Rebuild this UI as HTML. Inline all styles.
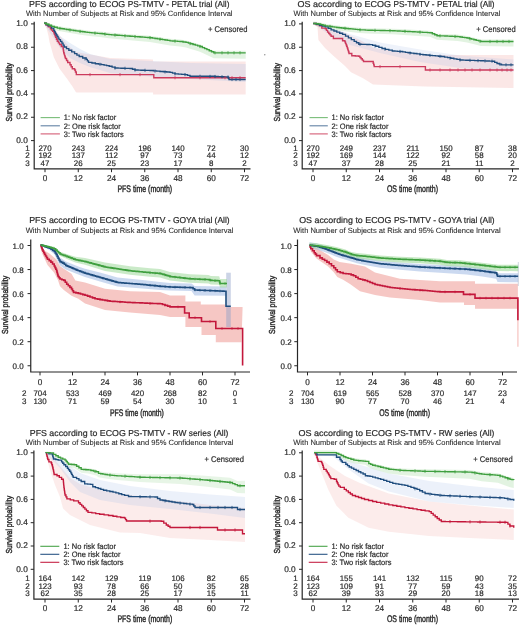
<!DOCTYPE html><html><head><meta charset="utf-8"><style>html,body{margin:0;padding:0;background:#fff;}svg{display:block;will-change:transform;}text{font-family:"Liberation Sans", sans-serif;stroke:#2b2b2b;stroke-width:0.2;text-rendering:geometricPrecision;}</style></head><body>
<svg width="520" height="625" viewBox="0 0 520 625">
<rect width="520" height="625" fill="#fff"/>
<path d="M44 23.2L50 26L55 30L60 36L65 42L70 47L76 52L110 58L153 59.5L153.1 61.5L245.7 61.5L245.7 94.6L153.1 94.6L153 92.5L76.5 92.5L75.8 91.9L72.3 86.2L66.5 78.1L59.6 68.8L53.8 57.3L49.5 42L48.5 36L46.5 28L44 23.5Z" fill="#f1a9a4" fill-opacity="0.28" stroke="none"/>
<path d="M44 23.5L55 30L60 36L70 43L80 49L90 54L110 59L150 61L190 63L245.7 64L245.7 82L190 79L150 76.5L110 73L90 67L80 63L70 58L60 48L55 40L44 24Z" fill="#a9bfe6" fill-opacity="0.25" stroke="none"/>
<path d="M44 21.2L51.5 24.3L57.3 26.1L68.8 27.8L80.4 29.5L91.9 30.9L100 31.5L109 32.6L130 34.2L150 35.7L160 37.2L170 38.8L180 39.5L186 40.4L200 44.5L213.8 50.8L245.7 50.8L245.7 58.83L213.8 58.27L200 51.73L186 47.38L180 46.38L170 45.5L160 43.73L150 42.05L130 40.21L109 38.24L100 36.98L91.9 36.24L80.4 34.64L68.8 32.73L57.3 30.83L51.5 28.93L44 24Z" fill="#9fd89a" fill-opacity="0.3" stroke="none"/>
<path d="M44 23.2H46.13V25.03H48.27V26.87H50.4V28.7H51.53V30.03H52.67V31.37H53.8V32.7H54.4V34.23H55V35.77H55.6V37.3H56.45V39.3H57.3V41.3H58.45V42.9H59.6V44.5H61.3V46.5H63.1V48.5H63.3V49.9H63.5V51.3H63.7V52.7H64.12V54.15H64.55V55.6H64.98V57.05H65.4V58.5H66.55V60.5H67.7V62.5H70V64.8H71.15V66.8H72.3V68.8H74.6V70H75.45V72H76.3V74V74.6H153.8V77.7H245.7" fill="none" stroke="#cc3a5c" stroke-width="1.4" stroke-linejoin="miter"/>
<path d="M44 23.2H46.05V24.5H48.1V25.8H51.5V28.1H53.8V30.4H54.6V31.93H55.4V33.47H56.2V35H57.13V36.53H58.07V38.07H59V39.6H60.45V41.35H61.9V43.1H63.05V45.05H64.2V47H66.5V48.6H68.8V50.2H71.7V51.9H74.6V53.6H76.9V55.05H79.2V56.5H82.7V57.95H86.2V59.4H87.35V60.85H88.5V62.3H91.95V63H95.4V63.7H98.45V64.15H101.5V64.6H104.07V65.13H106.63V65.67H109.2V66.2H112.1V67.1H115V68H118V68.1H121V68.2H124V68.3H127V68.4H130V68.5H132.5V69.25H135V70H138V70.1H141V70.2H144V70.3H147V70.4H150V70.5H153.33V70.83H156.67V71.17H160V71.5H163.33V71.77H166.67V72.03H170V72.3H172.5V73.05H175V73.8H178.33V74.07H181.67V74.33H185V74.6H187.5V75.4H190V76.2H215V76.5H218.25V76.62H221.5V76.75H224.75V76.88H228V77H228.5V78.25H229V79.5H245.7" fill="none" stroke="#1f4d7e" stroke-width="1.35" stroke-linejoin="miter"/>
<path d="M44 23.2H46.5V24.23H49V25.27H51.5V26.3H54.4V27.2H57.3V28.1H59.6V28.44H61.9V28.78H64.2V29.12H66.5V29.46H68.8V29.8H71.12V30.14H73.44V30.48H75.76V30.82H78.08V31.16H80.4V31.5H82.7V31.78H85V32.06H87.3V32.34H89.6V32.62H91.9V32.9H94.6V33.1H97.3V33.3H100V33.5H102.25V33.77H104.5V34.05H106.75V34.33H109V34.6H111.62V34.8H114.25V35H116.88V35.2H119.5V35.4H122.12V35.6H124.75V35.8H127.38V36H130V36.2H132.5V36.39H135V36.58H137.5V36.76H140V36.95H142.5V37.14H145V37.33H147.5V37.51H150V37.7H152.5V38.08H155V38.45H157.5V38.83H160V39.2H162.5V39.6H165V40H167.5V40.4H170V40.8H172.5V40.97H175V41.15H177.5V41.33H180V41.5H183V41.95H186V42.4H188.33V43.08H190.67V43.77H193V44.45H195.33V45.13H197.67V45.82H200V46.5H202.3V47.55H204.6V48.6H206.9V49.65H209.2V50.7H211.5V51.75H213.8V52.8H245.7" fill="none" stroke="#3f9f3f" stroke-width="1.35" stroke-linejoin="miter"/>
<path d="M60 26.9V30.1M70 28.38V31.58M80 29.84V33.04M95 31.53V34.73M105 32.51V35.71M115 33.46V36.66M125 34.22V37.42M135 34.98V38.18M150 36.1V39.3M160 37.6V40.8M175 39.55V42.75M190 41.97V45.17M200 44.9V48.1M215 51.2V54.4M222 51.2V54.4M228 51.2V54.4M234 51.2V54.4M240 51.2V54.4" stroke="#3f9f3f" stroke-width="0.8" fill="none"/>
<path d="M85 57.3V60.5M100 62.78V65.98M115 66.4V69.6M125 66.73V69.93M135 68.4V71.6M145 68.73V71.93M155 69.4V72.6M165 70.3V73.5M175 72.2V75.4M185 73V76.2M200 74.72V77.92M210 74.84V78.04M215 74.9V78.1M222 75.17V78.37M228 75.4V78.6M232 77.9V81.1M236 77.9V81.1M240 77.9V81.1" stroke="#1f4d7e" stroke-width="0.8" fill="none"/>
<path d="M90 73V76.2M120 73V76.2M140 73V76.2M175 76.1V79.3M200 76.1V79.3M225 76.1V79.3M232 76.1V79.3M240 76.1V79.3" stroke="#cc3a5c" stroke-width="0.8" fill="none"/>
<path d="M34.2 21.7V168.8H250.5" fill="none" stroke="#262626" stroke-width="1.2"/>
<text x="27.8" y="142.8" font-size="8.3" text-anchor="end" fill="#2b2b2b">0.0</text>
<text x="27.8" y="119.46" font-size="8.3" text-anchor="end" fill="#2b2b2b">0.2</text>
<text x="27.8" y="96.12" font-size="8.3" text-anchor="end" fill="#2b2b2b">0.4</text>
<text x="27.8" y="72.78" font-size="8.3" text-anchor="end" fill="#2b2b2b">0.6</text>
<text x="27.8" y="49.44" font-size="8.3" text-anchor="end" fill="#2b2b2b">0.8</text>
<text x="27.8" y="26.1" font-size="8.3" text-anchor="end" fill="#2b2b2b">1.0</text>
<text x="45" y="180.9" font-size="8.4" text-anchor="middle" textLength="4.58" lengthAdjust="spacingAndGlyphs" fill="#2b2b2b">0</text>
<text x="78.25" y="180.9" font-size="8.4" text-anchor="middle" textLength="9.16" lengthAdjust="spacingAndGlyphs" fill="#2b2b2b">12</text>
<text x="111.5" y="180.9" font-size="8.4" text-anchor="middle" textLength="9.16" lengthAdjust="spacingAndGlyphs" fill="#2b2b2b">24</text>
<text x="144.75" y="180.9" font-size="8.4" text-anchor="middle" textLength="9.16" lengthAdjust="spacingAndGlyphs" fill="#2b2b2b">36</text>
<text x="178" y="180.9" font-size="8.4" text-anchor="middle" textLength="9.16" lengthAdjust="spacingAndGlyphs" fill="#2b2b2b">48</text>
<text x="211.25" y="180.9" font-size="8.4" text-anchor="middle" textLength="9.16" lengthAdjust="spacingAndGlyphs" fill="#2b2b2b">60</text>
<text x="244.5" y="180.9" font-size="8.4" text-anchor="middle" textLength="9.16" lengthAdjust="spacingAndGlyphs" fill="#2b2b2b">72</text>
<path d="M31 140.6H34.2M31 117.26H34.2M31 93.92H34.2M31 70.58H34.2M31 47.24H34.2M31 23.9H34.2M45 168.8V172.2M78.25 168.8V172.2M111.5 168.8V172.2M144.75 168.8V172.2M178 168.8V172.2M211.25 168.8V172.2M244.5 168.8V172.2" stroke="#262626" stroke-width="1"/>
<text x="29.8" y="150.5" font-size="8" text-anchor="end" fill="#2b2b2b">1</text>
<text x="45" y="150.5" font-size="8" text-anchor="middle" textLength="13.21" lengthAdjust="spacingAndGlyphs" fill="#2b2b2b">270</text>
<text x="78.25" y="150.5" font-size="8" text-anchor="middle" textLength="13.21" lengthAdjust="spacingAndGlyphs" fill="#2b2b2b">243</text>
<text x="111.5" y="150.5" font-size="8" text-anchor="middle" textLength="13.21" lengthAdjust="spacingAndGlyphs" fill="#2b2b2b">224</text>
<text x="144.75" y="150.5" font-size="8" text-anchor="middle" textLength="13.21" lengthAdjust="spacingAndGlyphs" fill="#2b2b2b">196</text>
<text x="178" y="150.5" font-size="8" text-anchor="middle" textLength="13.21" lengthAdjust="spacingAndGlyphs" fill="#2b2b2b">140</text>
<text x="211.25" y="150.5" font-size="8" text-anchor="middle" textLength="8.81" lengthAdjust="spacingAndGlyphs" fill="#2b2b2b">72</text>
<text x="244.5" y="150.5" font-size="8" text-anchor="middle" textLength="8.81" lengthAdjust="spacingAndGlyphs" fill="#2b2b2b">30</text>
<text x="29.8" y="158.3" font-size="8" text-anchor="end" fill="#2b2b2b">2</text>
<text x="45" y="158.3" font-size="8" text-anchor="middle" textLength="13.21" lengthAdjust="spacingAndGlyphs" fill="#2b2b2b">192</text>
<text x="78.25" y="158.3" font-size="8" text-anchor="middle" textLength="13.21" lengthAdjust="spacingAndGlyphs" fill="#2b2b2b">137</text>
<text x="111.5" y="158.3" font-size="8" text-anchor="middle" textLength="12.62" lengthAdjust="spacingAndGlyphs" fill="#2b2b2b">112</text>
<text x="144.75" y="158.3" font-size="8" text-anchor="middle" textLength="8.81" lengthAdjust="spacingAndGlyphs" fill="#2b2b2b">97</text>
<text x="178" y="158.3" font-size="8" text-anchor="middle" textLength="8.81" lengthAdjust="spacingAndGlyphs" fill="#2b2b2b">73</text>
<text x="211.25" y="158.3" font-size="8" text-anchor="middle" textLength="8.81" lengthAdjust="spacingAndGlyphs" fill="#2b2b2b">44</text>
<text x="244.5" y="158.3" font-size="8" text-anchor="middle" textLength="8.81" lengthAdjust="spacingAndGlyphs" fill="#2b2b2b">12</text>
<text x="29.8" y="165.9" font-size="8" text-anchor="end" fill="#2b2b2b">3</text>
<text x="45" y="165.9" font-size="8" text-anchor="middle" textLength="8.81" lengthAdjust="spacingAndGlyphs" fill="#2b2b2b">47</text>
<text x="78.25" y="165.9" font-size="8" text-anchor="middle" textLength="8.81" lengthAdjust="spacingAndGlyphs" fill="#2b2b2b">26</text>
<text x="111.5" y="165.9" font-size="8" text-anchor="middle" textLength="8.81" lengthAdjust="spacingAndGlyphs" fill="#2b2b2b">25</text>
<text x="144.75" y="165.9" font-size="8" text-anchor="middle" textLength="8.81" lengthAdjust="spacingAndGlyphs" fill="#2b2b2b">23</text>
<text x="178" y="165.9" font-size="8" text-anchor="middle" textLength="8.81" lengthAdjust="spacingAndGlyphs" fill="#2b2b2b">17</text>
<text x="211.25" y="165.9" font-size="8" text-anchor="middle" textLength="4.4" lengthAdjust="spacingAndGlyphs" fill="#2b2b2b">8</text>
<text x="244.5" y="165.9" font-size="8" text-anchor="middle" textLength="4.4" lengthAdjust="spacingAndGlyphs" fill="#2b2b2b">2</text>
<text x="29" y="7" font-size="8.6" textLength="96.25" lengthAdjust="spacingAndGlyphs" fill="#2b2b2b">PFS according to ECOG</text>
<text x="127.7" y="7" font-size="8.6" textLength="101.8" lengthAdjust="spacingAndGlyphs" fill="#2b2b2b">PS-TMTV - PETAL trial (All)</text>
<text x="26" y="16.4" font-size="7.5" textLength="206.5" lengthAdjust="spacingAndGlyphs" fill="#2b2b2b" style="stroke-width:0.08">With Number of Subjects at Risk and 95% Confidence Interval</text>
<text x="117.4" y="191.5" font-size="9.6" textLength="54.8" lengthAdjust="spacingAndGlyphs" fill="#2b2b2b" style="stroke-width:0.42">PFS time (month)</text>
<text style="stroke-width:0.42" transform="translate(11.5 121.4) rotate(-90)" font-size="8.7" fill="#2b2b2b" textLength="58.4" lengthAdjust="spacingAndGlyphs">Survival probability</text>
<path d="M40.6 117.6H59.9" stroke="#3f9f3f" stroke-width="1.1" stroke-opacity="0.7"/>
<text x="63.75" y="120.3" font-size="7.9" textLength="52.5" lengthAdjust="spacingAndGlyphs" fill="#2b2b2b">1: No risk factor</text>
<path d="M40.6 125.8H59.9" stroke="#1f4d7e" stroke-width="1.1" stroke-opacity="0.7"/>
<text x="63.75" y="128.5" font-size="7.9" textLength="57" lengthAdjust="spacingAndGlyphs" fill="#2b2b2b">2: One risk factor</text>
<path d="M40.6 133.9H59.9" stroke="#c3173b" stroke-width="1.1" stroke-opacity="0.7"/>
<text x="63.75" y="136.6" font-size="7.9" textLength="60" lengthAdjust="spacingAndGlyphs" fill="#2b2b2b">3: Two risk factors</text>
<text x="208" y="32" font-size="8.4" textLength="39.5" lengthAdjust="spacingAndGlyphs" fill="#2b2b2b">+ Censored</text>
<path d="M313.2 23.5L322 26L331 29L345 33L360 40L374 48L425 55L513.5 55L513.5 88L425 86.5L373 84.6L363.5 78.5L351 72.3L345 66L333 55.4L325 48L318.4 40L317.5 27L313.5 24.5Z" fill="#f1a9a4" fill-opacity="0.28" stroke="none"/>
<path d="M313.2 23.5L330 27L350 34L380 42.5L420 49.5L460 55.5L513.5 59.5L513.5 72L460 68L420 62L380 53L350 45L330 35L313.2 24Z" fill="#a9bfe6" fill-opacity="0.2" stroke="none"/>
<path d="M313.2 21.5L318.4 22L325.3 23.8L336.8 25.5L348.4 26.7L359.9 27.8L368 28.2L392.3 28.7L400 29.1L430 30.7L437 33.7L457.7 34.6L467 36L476.2 38.3L480.8 39.5L513.5 39.5L513.5 46.51L480.8 46.1L476.2 44.84L467 42.42L457.7 40.91L437 39.75L430 36.66L400 34.69L392.3 34.19L368 33.39L359.9 32.89L348.4 31.64L336.8 30.3L325.3 28.45L318.4 26.57L313.8 24Z" fill="#9fd89a" fill-opacity="0.3" stroke="none"/>
<path d="M313.2 23.5H316.35V24.65H319.5V25.8H321.8V28.1H325.3V28.7H326.45V30.4H327.6V32.1H328.77V33.47H329.93V34.83H331.1V36.2H333.4V38.5H340.3H342.6V40.8H344.9V41.9H345.47V43.35H346.05V44.8H346.62V46.25H347.2V47.7H347.65V49.15H348.1V50.6H348.55V52.05H349V53.5H351.8V55.8H355.3V56.05H358.8V56.3H359.95V57.5H361.1V58.7H362.3V60.1H363.5V61.5H372.7H373.2V63.2H373.7V64.9H374.2V66.6H425.4V70H513.5" fill="none" stroke="#cc3a5c" stroke-width="1.4" stroke-linejoin="miter"/>
<path d="M313.2 23.5H316.35V24.35H319.5V25.2H322.4V26.05H325.3V26.9H328.2V28.35H331.1V29.8H333.95V30.95H336.8V32.1H339.7V33.25H342.6V34.4H345.5V36.15H348.4V37.9H351.3V39.6H354.2V41.3H356.5V42.75H358.8V44.2H361.5V44.3H364.2V44.4H366.9V44.5H369.6V44.6H372.7V45.4H375.8V46.2H378.9V47.35H382V48.5H385.43V49.33H388.87V50.17H392.3V51H394.87V51.17H397.43V51.33H400V51.5H402.7V51.9H405.4V52.3H408.1V52.7H410.8V53.1H413.85V53.5H416.9V53.9H419.95V54.3H423V54.7H426.08V55H429.17V55.3H432.25V55.6H435.33V55.9H438.42V56.2H441.5V56.5H444.58V57.08H447.67V57.67H450.75V58.25H453.83V58.83H456.92V59.42H460V60H462.94V60.11H465.87V60.22H468.81V60.33H471.75V60.44H474.68V60.55H477.62V60.65H480.55V60.76H483.49V60.87H486.43V60.98H489.36V61.09H492.3V61.2H494.65V62.35H497V63.5H499.25V64.15H501.5V64.8H513.5" fill="none" stroke="#1f4d7e" stroke-width="1.35" stroke-linejoin="miter"/>
<path d="M313.2 23.5H315.8V23.75H318.4V24H320.7V24.6H323V25.2H325.3V25.8H327.6V26.14H329.9V26.48H332.2V26.82H334.5V27.16H336.8V27.5H339.12V27.74H341.44V27.98H343.76V28.22H346.08V28.46H348.4V28.7H350.7V28.92H353V29.14H355.3V29.36H357.6V29.58H359.9V29.8H362.6V29.93H365.3V30.07H368V30.2H370.43V30.25H372.86V30.3H375.29V30.35H377.72V30.4H380.15V30.45H382.58V30.5H385.01V30.55H387.44V30.6H389.87V30.65H392.3V30.7H394.87V30.83H397.43V30.97H400V31.1H402.5V31.23H405V31.37H407.5V31.5H410V31.63H412.5V31.77H415V31.9H417.5V32.03H420V32.17H422.5V32.3H425V32.43H427.5V32.57H430V32.7H432.33V33.7H434.67V34.7H437V35.7H439.59V35.81H442.18V35.93H444.76V36.04H447.35V36.15H449.94V36.26H452.52V36.38H455.11V36.49H457.7V36.6H460.02V36.95H462.35V37.3H464.68V37.65H467V38H469.3V38.58H471.6V39.15H473.9V39.72H476.2V40.3H478.5V40.9H480.8V41.5H513.5" fill="none" stroke="#3f9f3f" stroke-width="1.35" stroke-linejoin="miter"/>
<path d="M330 24.89V28.09M345 26.75V29.95M360 28.2V31.4M375 28.74V31.94M390 29.05V32.25M405 29.77V32.97M420 30.57V33.77M440 34.23V37.43M455 34.88V38.08M470 37.15V40.35M480 39.69V42.89M490 39.9V43.1M497 39.9V43.1M503 39.9V43.1M509 39.9V43.1" stroke="#3f9f3f" stroke-width="0.8" fill="none"/>
<path d="M360 42.64V45.84M375 44.39V47.59M385 47.63V50.83M400 49.9V53.1M410 51.38V54.58M420 52.71V55.91M430 53.78V56.98M440 54.75V57.95M450 56.51V59.71M460 58.4V61.6M470 58.77V61.97M478 59.07V62.27M485 59.33V62.53M492 59.59V62.79M500 62.77V65.97M506 63.2V66.4M511 63.2V66.4" stroke="#1f4d7e" stroke-width="0.8" fill="none"/>
<path d="M380 65V68.2M400 65V68.2M430 68.4V71.6M440 68.4V71.6M450 68.4V71.6M458 68.4V71.6M465 68.4V71.6M472 68.4V71.6M480 68.4V71.6M490 68.4V71.6M497 68.4V71.6M502 68.4V71.6M507 68.4V71.6M511 68.4V71.6" stroke="#cc3a5c" stroke-width="0.8" fill="none"/>
<path d="M302.2 21.7V168.8H519" fill="none" stroke="#262626" stroke-width="1.2"/>
<text x="295.7" y="142.8" font-size="8.3" text-anchor="end" fill="#2b2b2b">0.0</text>
<text x="295.7" y="119.46" font-size="8.3" text-anchor="end" fill="#2b2b2b">0.2</text>
<text x="295.7" y="96.12" font-size="8.3" text-anchor="end" fill="#2b2b2b">0.4</text>
<text x="295.7" y="72.78" font-size="8.3" text-anchor="end" fill="#2b2b2b">0.6</text>
<text x="295.7" y="49.44" font-size="8.3" text-anchor="end" fill="#2b2b2b">0.8</text>
<text x="295.7" y="26.1" font-size="8.3" text-anchor="end" fill="#2b2b2b">1.0</text>
<text x="313" y="180.9" font-size="8.4" text-anchor="middle" textLength="4.58" lengthAdjust="spacingAndGlyphs" fill="#2b2b2b">0</text>
<text x="346.25" y="180.9" font-size="8.4" text-anchor="middle" textLength="9.16" lengthAdjust="spacingAndGlyphs" fill="#2b2b2b">12</text>
<text x="379.5" y="180.9" font-size="8.4" text-anchor="middle" textLength="9.16" lengthAdjust="spacingAndGlyphs" fill="#2b2b2b">24</text>
<text x="412.75" y="180.9" font-size="8.4" text-anchor="middle" textLength="9.16" lengthAdjust="spacingAndGlyphs" fill="#2b2b2b">36</text>
<text x="446" y="180.9" font-size="8.4" text-anchor="middle" textLength="9.16" lengthAdjust="spacingAndGlyphs" fill="#2b2b2b">48</text>
<text x="479.25" y="180.9" font-size="8.4" text-anchor="middle" textLength="9.16" lengthAdjust="spacingAndGlyphs" fill="#2b2b2b">60</text>
<text x="512.5" y="180.9" font-size="8.4" text-anchor="middle" textLength="9.16" lengthAdjust="spacingAndGlyphs" fill="#2b2b2b">72</text>
<path d="M299 140.6H302.2M299 117.26H302.2M299 93.92H302.2M299 70.58H302.2M299 47.24H302.2M299 23.9H302.2M313 168.8V172.2M346.25 168.8V172.2M379.5 168.8V172.2M412.75 168.8V172.2M446 168.8V172.2M479.25 168.8V172.2M512.5 168.8V172.2" stroke="#262626" stroke-width="1"/>
<text x="297.8" y="150.5" font-size="8" text-anchor="end" fill="#2b2b2b">1</text>
<text x="313" y="150.5" font-size="8" text-anchor="middle" textLength="13.21" lengthAdjust="spacingAndGlyphs" fill="#2b2b2b">270</text>
<text x="346.25" y="150.5" font-size="8" text-anchor="middle" textLength="13.21" lengthAdjust="spacingAndGlyphs" fill="#2b2b2b">249</text>
<text x="379.5" y="150.5" font-size="8" text-anchor="middle" textLength="13.21" lengthAdjust="spacingAndGlyphs" fill="#2b2b2b">237</text>
<text x="412.75" y="150.5" font-size="8" text-anchor="middle" textLength="12.62" lengthAdjust="spacingAndGlyphs" fill="#2b2b2b">211</text>
<text x="446" y="150.5" font-size="8" text-anchor="middle" textLength="13.21" lengthAdjust="spacingAndGlyphs" fill="#2b2b2b">150</text>
<text x="479.25" y="150.5" font-size="8" text-anchor="middle" textLength="8.81" lengthAdjust="spacingAndGlyphs" fill="#2b2b2b">87</text>
<text x="512.5" y="150.5" font-size="8" text-anchor="middle" textLength="8.81" lengthAdjust="spacingAndGlyphs" fill="#2b2b2b">38</text>
<text x="297.8" y="158.3" font-size="8" text-anchor="end" fill="#2b2b2b">2</text>
<text x="313" y="158.3" font-size="8" text-anchor="middle" textLength="13.21" lengthAdjust="spacingAndGlyphs" fill="#2b2b2b">192</text>
<text x="346.25" y="158.3" font-size="8" text-anchor="middle" textLength="13.21" lengthAdjust="spacingAndGlyphs" fill="#2b2b2b">169</text>
<text x="379.5" y="158.3" font-size="8" text-anchor="middle" textLength="13.21" lengthAdjust="spacingAndGlyphs" fill="#2b2b2b">144</text>
<text x="412.75" y="158.3" font-size="8" text-anchor="middle" textLength="13.21" lengthAdjust="spacingAndGlyphs" fill="#2b2b2b">122</text>
<text x="446" y="158.3" font-size="8" text-anchor="middle" textLength="8.81" lengthAdjust="spacingAndGlyphs" fill="#2b2b2b">92</text>
<text x="479.25" y="158.3" font-size="8" text-anchor="middle" textLength="8.81" lengthAdjust="spacingAndGlyphs" fill="#2b2b2b">58</text>
<text x="512.5" y="158.3" font-size="8" text-anchor="middle" textLength="8.81" lengthAdjust="spacingAndGlyphs" fill="#2b2b2b">20</text>
<text x="297.8" y="165.9" font-size="8" text-anchor="end" fill="#2b2b2b">3</text>
<text x="313" y="165.9" font-size="8" text-anchor="middle" textLength="8.81" lengthAdjust="spacingAndGlyphs" fill="#2b2b2b">47</text>
<text x="346.25" y="165.9" font-size="8" text-anchor="middle" textLength="8.81" lengthAdjust="spacingAndGlyphs" fill="#2b2b2b">37</text>
<text x="379.5" y="165.9" font-size="8" text-anchor="middle" textLength="8.81" lengthAdjust="spacingAndGlyphs" fill="#2b2b2b">28</text>
<text x="412.75" y="165.9" font-size="8" text-anchor="middle" textLength="8.81" lengthAdjust="spacingAndGlyphs" fill="#2b2b2b">25</text>
<text x="446" y="165.9" font-size="8" text-anchor="middle" textLength="8.81" lengthAdjust="spacingAndGlyphs" fill="#2b2b2b">21</text>
<text x="479.25" y="165.9" font-size="8" text-anchor="middle" textLength="8.22" lengthAdjust="spacingAndGlyphs" fill="#2b2b2b">11</text>
<text x="512.5" y="165.9" font-size="8" text-anchor="middle" textLength="4.4" lengthAdjust="spacingAndGlyphs" fill="#2b2b2b">2</text>
<text x="297.6" y="7" font-size="8.6" textLength="93.31" lengthAdjust="spacingAndGlyphs" fill="#2b2b2b">OS according to ECOG</text>
<text x="393.4" y="7" font-size="8.6" textLength="101.2" lengthAdjust="spacingAndGlyphs" fill="#2b2b2b">PS-TMTV - PETAL trial (All)</text>
<text x="293.4" y="16.4" font-size="7.5" textLength="207" lengthAdjust="spacingAndGlyphs" fill="#2b2b2b" style="stroke-width:0.08">With Number of Subjects at Risk and 95% Confidence Interval</text>
<text x="386.9" y="191.8" font-size="9.6" textLength="51.1" lengthAdjust="spacingAndGlyphs" fill="#2b2b2b" style="stroke-width:0.42">OS time (month)</text>
<text style="stroke-width:0.42" transform="translate(279.5 121.4) rotate(-90)" font-size="8.7" fill="#2b2b2b" textLength="58.4" lengthAdjust="spacingAndGlyphs">Survival probability</text>
<path d="M309.5 117.6H327.8" stroke="#3f9f3f" stroke-width="1.1" stroke-opacity="0.7"/>
<text x="331.5" y="120.3" font-size="7.9" textLength="52.5" lengthAdjust="spacingAndGlyphs" fill="#2b2b2b">1: No risk factor</text>
<path d="M309.5 125.8H327.8" stroke="#1f4d7e" stroke-width="1.1" stroke-opacity="0.7"/>
<text x="331.5" y="128.5" font-size="7.9" textLength="57" lengthAdjust="spacingAndGlyphs" fill="#2b2b2b">2: One risk factor</text>
<path d="M309.5 133.9H327.8" stroke="#c3173b" stroke-width="1.1" stroke-opacity="0.7"/>
<text x="331.5" y="136.6" font-size="7.9" textLength="60" lengthAdjust="spacingAndGlyphs" fill="#2b2b2b">3: Two risk factors</text>
<text x="476.2" y="32" font-size="8.4" textLength="39.5" lengthAdjust="spacingAndGlyphs" fill="#2b2b2b">+ Censored</text>
<path d="M40.5 245L44.6 250.6L49.4 253.5L56.2 259.2L60 266L63.8 268.8L71.5 273.7L75.4 280.4L85 282.5L105 288.75L130 291.25L160 292L170 295.4L185.4 295.4L185.4 301.5L200.8 301.5L200.8 304.6L225.4 304.6L225.4 307L242.6 307L241.5 342.3L215.8 342.3L215.8 335L201.5 335L201.5 327L185.4 327L185.4 317L170 317L160 315L130 312.5L105 310L85 303.5L78.3 298.7L71.5 295.8L63.8 290L60 286.2L58.1 280.4L54.2 272.7L47.5 265L41.7 252.5L40.5 245.5Z" fill="#f1a9a4" fill-opacity="0.65" stroke="none"/>
<path d="M40.5 245L49.4 246.5L54.2 249L58.1 254.5L60 257.5L65.8 261.5L78.3 266.5L85 268.8L100 272.5L117.5 277.5L142.5 280L160 282L170 283L191.5 283.5L194.6 286L226 286.5L226 295.8L194.6 295.5L191.5 291L170 290.5L160 290L142.5 288.5L117.5 286.5L100 281.5L85 277L78.3 274.5L65.8 269.5L60 265.5L58.1 262L54.2 254L49.4 250L40.5 245.5Z" fill="#a9bfe6" fill-opacity="0.6" stroke="none"/>
<path d="M226.2 272.7L230.8 272.7L230.8 327L226.2 327Z" fill="#8fa0c8" fill-opacity="0.45" stroke="none"/>
<path d="M40.5 243.97L49.4 245.65L54.2 246.87L57.1 249.5L60 251.83L63.8 253.01L68.7 254.63L75.4 256.63L85 257.98L105 262.5L130 266.3L150 268.2L160 269L170 272L190 274.3L208.5 275.1L210.8 275.9L219.2 276.3L220 279L227 279L227 287.5L220 287.5L219.2 284.8L210.8 284.4L208.5 283.6L190 282.8L170 280.5L160 277.5L150 276.7L130 274.8L105 271L85 264.85L75.4 262.47L68.7 259.74L63.8 257.59L60 256L57.1 253.35L54.2 250.41L49.4 248.67L40.5 246.03Z" fill="#9fd89a" fill-opacity="0.55" stroke="none"/>
<path d="M40.5 245H41.07V246.53H41.63V248.07H42.2V249.6H43V251.2H43.8V252.8H44.6V254.4H45.57V256H46.53V257.6H47.5V259.2H49.2V260.65H50.9V262.1H52.55V264.05H54.2V266H55V267.6H55.8V269.2H56.6V270.8H56.98V272.23H57.35V273.65H57.73V275.07H58.1V276.5H59.05V277.75H60V279H61.9V279.7H63.8V280.4H65.25V282.3H66.7V284.2H68.3V285.8H69.9V287.4H71.5V289H72.5V290.7H73.5V292.4H75.9V292.9H78.3V293.4H80.53V294.03H82.77V294.67H85V295.3H87.5V296.16H90V297.02H92.5V297.89H95V298.75H97.5V299.17H100V299.58H102.5V300H105V300.42H107.5V300.83H110V301.25H112.5V301.41H115V301.56H117.5V301.72H120V301.88H122.5V302.03H125V302.19H127.5V302.34H130V302.5H132.5V302.6H135V302.71H137.5V302.81H140V302.92H142.5V303.02H145V303.12H147.5V303.23H150V303.33H152.5V303.44H155V303.54H157.5V303.65H160V303.75H162.5V304.54H165V305.32H167.5V306.11H170V306.9H184.6V313H189.2V317.7H201.5V321.5H215.8V328.5H242.6V365.4" fill="none" stroke="#c3173b" stroke-width="1.6" stroke-linejoin="miter"/>
<path d="M40.5 245H41.98V245.53H43.47V246.07H44.95V246.6H46.43V247.13H47.92V247.67H49.4V248.2H51V249.3H52.6V250.4H54.2V251.5H55.2V252.95H56.2V254.4H57.15V256.35H58.1V258.3H59.05V259.95H60V261.6H61.45V262.35H62.9V263.1H64.35V264.3H65.8V265.5H67.22V266.1H68.65V266.7H70.08V267.3H71.5V267.9H72.86V268.48H74.22V269.06H75.58V269.64H76.94V270.22H78.3V270.8H79.97V271.4H81.65V272H83.33V272.6H85V273.2H86.5V273.63H88V274.06H89.5V274.49H91V274.92H92.5V275.35H94V275.78H95.5V276.21H97V276.64H98.5V277.07H100V277.5H101.46V277.92H102.92V278.33H104.38V278.75H105.83V279.17H107.29V279.58H108.75V280H110.21V280.42H111.67V280.83H113.12V281.25H114.58V281.67H116.04V282.08H117.5V282.5H118.97V282.62H120.44V282.74H121.91V282.85H123.38V282.97H124.85V283.09H126.32V283.21H127.79V283.32H129.26V283.44H130.74V283.56H132.21V283.68H133.68V283.79H135.15V283.91H136.62V284.03H138.09V284.15H139.56V284.26H141.03V284.38H142.5V284.5H143.96V284.65H145.42V284.79H146.88V284.94H148.33V285.08H149.79V285.23H151.25V285.38H152.71V285.52H154.17V285.67H155.62V285.81H157.08V285.96H158.54V286.1H160V286.25H161.43V286.36H162.86V286.46H164.29V286.57H165.71V286.68H167.14V286.79H168.57V286.89H170V287H171.54V287.04H173.07V287.09H174.61V287.13H176.14V287.17H177.68V287.21H179.21V287.26H180.75V287.3H182.29V287.34H183.82V287.39H185.36V287.43H186.89V287.47H188.43V287.51H189.96V287.56H191.5V287.6H193.05V288.8H194.6V290H196.14V290.06H197.67V290.13H199.21V290.19H200.75V290.25H202.28V290.32H203.82V290.38H205.36V290.44H206.89V290.51H208.43V290.57H209.97V290.63H211.51V290.69H213.04V290.76H214.58V290.82H216.12V290.88H217.65V290.95H219.19V291.01H220.73V291.07H222.26V291.14H223.8V291.2H226V306.2H230.8" fill="none" stroke="#1f4d7e" stroke-width="1.6" stroke-linejoin="miter"/>
<path d="M40.5 245H41.98V245.37H43.47V245.73H44.95V246.1H46.43V246.47H47.92V246.83H49.4V247.2H51V247.7H52.6V248.2H54.2V248.7H55.65V250.1H57.1V251.5H58.55V252.75H60V254H61.27V254.47H62.53V254.93H63.8V255.4H65.43V256.03H67.07V256.67H68.7V257.3H70.38V257.9H72.05V258.5H73.73V259.1H75.4V259.7H77V260.02H78.6V260.33H80.2V260.65H81.8V260.97H83.4V261.28H85V261.6H86.54V262.02H88.08V262.43H89.62V262.85H91.15V263.26H92.69V263.68H94.23V264.09H95.77V264.51H97.31V264.92H98.85V265.34H100.38V265.75H101.92V266.17H103.46V266.58H105V267H106.47V267.22H107.94V267.45H109.41V267.67H110.88V267.89H112.35V268.12H113.82V268.34H115.29V268.56H116.76V268.79H118.24V269.01H119.71V269.24H121.18V269.46H122.65V269.68H124.12V269.91H125.59V270.13H127.06V270.35H128.53V270.58H130V270.8H131.54V270.95H133.08V271.09H134.62V271.24H136.15V271.38H137.69V271.53H139.23V271.68H140.77V271.82H142.31V271.97H143.85V272.12H145.38V272.26H146.92V272.41H148.46V272.55H150V272.7H151.43V272.81H152.86V272.93H154.29V273.04H155.71V273.16H157.14V273.27H158.57V273.39H160V273.5H161.43V273.93H162.86V274.36H164.29V274.79H165.71V275.21H167.14V275.64H168.57V276.07H170V276.5H171.54V276.68H173.08V276.85H174.62V277.03H176.15V277.21H177.69V277.38H179.23V277.56H180.77V277.74H182.31V277.92H183.85V278.09H185.38V278.27H186.92V278.45H188.46V278.62H190V278.8H191.54V278.87H193.08V278.93H194.62V279H196.17V279.07H197.71V279.13H199.25V279.2H200.79V279.27H202.33V279.33H203.88V279.4H205.42V279.47H206.96V279.53H208.5V279.6H209.65V280H210.8V280.4H212.2V280.47H213.6V280.53H215V280.6H216.4V280.67H217.8V280.73H219.2V280.8H219.6V282.15H220V283.5H227" fill="none" stroke="#3f9f3f" stroke-width="1.6" stroke-linejoin="miter"/>
<path d="M150 271.4V274M155 271.8V274.4M160 272.2V274.8M165 273.7V276.3M170 275.2V277.8M175 275.77V278.38M180 276.35V278.95M185 276.93V279.53M190 277.5V280.1M195 277.72V280.32M200 277.93V280.53M205 278.15V280.75M210 278.82V281.42M215 279.3V281.9M220 282.2V284.8M225 282.2V284.8" stroke="#3f9f3f" stroke-width="0.7" fill="none"/>
<path d="M150 283.95V286.55M155 284.45V287.05M160 284.95V287.55M165 285.32V287.93M170 285.7V288.3M175 285.84V288.44M180 285.98V288.58M185 286.12V288.72M190 286.26V288.86M195 288.72V291.32M200 288.92V291.52M205 289.13V291.73M210 289.33V291.93M215 289.54V292.14M220 289.74V292.34" stroke="#1f4d7e" stroke-width="0.7" fill="none"/>
<path d="M120 300.57V303.18M150 302.03V304.63M165 304.02V306.62M178 305.6V308.2M195 316.4V319M210 320.2V322.8M222 327.2V329.8M232 327.2V329.8M238 327.2V329.8" stroke="#c3173b" stroke-width="0.7" fill="none"/>
<path d="M30.75 239.6V372H250" fill="none" stroke="#262626" stroke-width="1.2"/>
<text x="23.7" y="369.15" font-size="8" text-anchor="end" fill="#2b2b2b">0.0</text>
<text x="23.7" y="345.1" font-size="8" text-anchor="end" fill="#2b2b2b">0.2</text>
<text x="23.7" y="321.05" font-size="8" text-anchor="end" fill="#2b2b2b">0.4</text>
<text x="23.7" y="297" font-size="8" text-anchor="end" fill="#2b2b2b">0.6</text>
<text x="23.7" y="272.95" font-size="8" text-anchor="end" fill="#2b2b2b">0.8</text>
<text x="23.7" y="248.9" font-size="8" text-anchor="end" fill="#2b2b2b">1.0</text>
<text x="40" y="384.5" font-size="8.4" text-anchor="middle" textLength="4.58" lengthAdjust="spacingAndGlyphs" fill="#2b2b2b">0</text>
<text x="72.5" y="384.5" font-size="8.4" text-anchor="middle" textLength="9.16" lengthAdjust="spacingAndGlyphs" fill="#2b2b2b">12</text>
<text x="105" y="384.5" font-size="8.4" text-anchor="middle" textLength="9.16" lengthAdjust="spacingAndGlyphs" fill="#2b2b2b">24</text>
<text x="137.5" y="384.5" font-size="8.4" text-anchor="middle" textLength="9.16" lengthAdjust="spacingAndGlyphs" fill="#2b2b2b">36</text>
<text x="170" y="384.5" font-size="8.4" text-anchor="middle" textLength="9.16" lengthAdjust="spacingAndGlyphs" fill="#2b2b2b">48</text>
<text x="202.5" y="384.5" font-size="8.4" text-anchor="middle" textLength="9.16" lengthAdjust="spacingAndGlyphs" fill="#2b2b2b">60</text>
<text x="235" y="384.5" font-size="8.4" text-anchor="middle" textLength="9.16" lengthAdjust="spacingAndGlyphs" fill="#2b2b2b">72</text>
<path d="M27.55 365.75H30.75M27.55 341.7H30.75M27.55 317.65H30.75M27.55 293.6H30.75M27.55 269.55H30.75M27.55 245.5H30.75M40 372V375.4M72.5 372V375.4M105 372V375.4M137.5 372V375.4M170 372V375.4M202.5 372V375.4M235 372V375.4" stroke="#262626" stroke-width="1"/>
<text x="26.5" y="395.8" font-size="8" text-anchor="end" fill="#2b2b2b">2</text>
<text x="40" y="395.8" font-size="8" text-anchor="middle" textLength="13.21" lengthAdjust="spacingAndGlyphs" fill="#2b2b2b">704</text>
<text x="72.5" y="395.8" font-size="8" text-anchor="middle" textLength="13.21" lengthAdjust="spacingAndGlyphs" fill="#2b2b2b">533</text>
<text x="105" y="395.8" font-size="8" text-anchor="middle" textLength="13.21" lengthAdjust="spacingAndGlyphs" fill="#2b2b2b">469</text>
<text x="137.5" y="395.8" font-size="8" text-anchor="middle" textLength="13.21" lengthAdjust="spacingAndGlyphs" fill="#2b2b2b">420</text>
<text x="170" y="395.8" font-size="8" text-anchor="middle" textLength="13.21" lengthAdjust="spacingAndGlyphs" fill="#2b2b2b">268</text>
<text x="202.5" y="395.8" font-size="8" text-anchor="middle" textLength="8.81" lengthAdjust="spacingAndGlyphs" fill="#2b2b2b">82</text>
<text x="235" y="395.8" font-size="8" text-anchor="middle" textLength="4.4" lengthAdjust="spacingAndGlyphs" fill="#2b2b2b">0</text>
<text x="26.5" y="404.2" font-size="8" text-anchor="end" fill="#2b2b2b">3</text>
<text x="40" y="404.2" font-size="8" text-anchor="middle" textLength="13.21" lengthAdjust="spacingAndGlyphs" fill="#2b2b2b">130</text>
<text x="72.5" y="404.2" font-size="8" text-anchor="middle" textLength="8.81" lengthAdjust="spacingAndGlyphs" fill="#2b2b2b">71</text>
<text x="105" y="404.2" font-size="8" text-anchor="middle" textLength="8.81" lengthAdjust="spacingAndGlyphs" fill="#2b2b2b">59</text>
<text x="137.5" y="404.2" font-size="8" text-anchor="middle" textLength="8.81" lengthAdjust="spacingAndGlyphs" fill="#2b2b2b">54</text>
<text x="170" y="404.2" font-size="8" text-anchor="middle" textLength="8.81" lengthAdjust="spacingAndGlyphs" fill="#2b2b2b">30</text>
<text x="202.5" y="404.2" font-size="8" text-anchor="middle" textLength="8.81" lengthAdjust="spacingAndGlyphs" fill="#2b2b2b">10</text>
<text x="235" y="404.2" font-size="8" text-anchor="middle" textLength="4.4" lengthAdjust="spacingAndGlyphs" fill="#2b2b2b">1</text>
<text x="29.2" y="222.7" font-size="8.6" textLength="96.54" lengthAdjust="spacingAndGlyphs" fill="#2b2b2b">PFS according to ECOG</text>
<text x="128.2" y="222.7" font-size="8.6" textLength="101.5" lengthAdjust="spacingAndGlyphs" fill="#2b2b2b">PS-TMTV - GOYA trial (All)</text>
<text x="25.75" y="232.6" font-size="7.5" textLength="207.7" lengthAdjust="spacingAndGlyphs" fill="#2b2b2b" style="stroke-width:0.08">With Number of Subjects at Risk and 95% Confidence Interval</text>
<text x="110" y="415.8" font-size="9.6" textLength="53.8" lengthAdjust="spacingAndGlyphs" fill="#2b2b2b" style="stroke-width:0.42">PFS time (month)</text>
<text style="stroke-width:0.42" transform="translate(7.8 334.1) rotate(-90)" font-size="8.7" fill="#2b2b2b" textLength="58.3" lengthAdjust="spacingAndGlyphs">Survival probability</text>
<path d="M309.5 245.2L316.5 248L328.1 255L333.8 259.6L339.6 261.9L351.2 263.7L365 266.5L375 272.5L390 276.25L400 278.75L420 280L440 281.25L475 281.25L475 283.75L517.9 283.75L517.9 308.75L475 308.75L475 305L464 305L464 302.5L440 302.5L420 300L390 297.5L375 295L360 291.25L350 284L343.1 279.8L337.3 276.9L333.8 272.3L328.1 266.5L316.5 258.5L310.8 251.5L309.5 246Z" fill="#f1a9a4" fill-opacity="0.65" stroke="none"/>
<path d="M517.2 300L518.6 300L518.6 346.7L517.2 346.7Z" fill="#f1a9a4" fill-opacity="0.6" stroke="none"/>
<path d="M309.5 242.2L316.5 243.3L324.6 245.7L330.4 248L336.2 250.3L343.1 252.6L351.2 254.9L356.9 256.6L365 258.3L380 260.75L400 262.5L420 264L440 265L466.4 266.2L482.2 268L496.2 270L497.5 273.3L518.2 273.3L518.2 282.29L497.5 281.99L496.2 278.67L482.2 276.47L466.4 274.45L440 272.87L420 271.59L400 269.8L380 267.76L365 265.1L356.9 263.28L351.2 261.5L343.1 259.09L336.2 256.69L330.4 254.31L324.6 251.92L316.5 249.41L309.5 248.21Z" fill="#a9bfe6" fill-opacity="0.6" stroke="none"/>
<path d="M309.5 242.7L316.5 243.3L328.1 245.3L337.3 247.3L345.4 249.6L351.2 251.9L356.9 253.1L365 253.8L380 255.5L400 256.75L420 257.5L440 258.75L447 259.9L460 260.3L484 263L498 264.7L518.2 264.7L518.2 271.19L498 271.05L484 269.25L460 266.38L447 265.89L440 264.69L420 263.29L400 262.4L380 261.01L365 259.2L356.9 258.44L351.2 257.2L345.4 254.86L337.3 252.5L328.1 250.44L316.5 248.35L309.5 247.7Z" fill="#9fd89a" fill-opacity="0.6" stroke="none"/>
<path d="M309.5 245.2H310.15V246.95H310.8V248.7H312.5V250.7H314.2V252.7H315.35V254.15H316.5V255.6H320V257.9H322.3V259.2H324.6V260.5H326.9V262.1H329.2V263.7H331.5V265.7H333.8V267.7H335.55V269.7H337.3V271.7H340.2V272.6H343.1V273.5H345.95V273.75H348.8V274H351.15V274.9H353.5V275.8H355.8V277.25H358.1V278.7H360.4V279.3H362.7V279.9H365V280.5H367.5V281.5H370V282.5H372.5V283.5H375V284.5H377.5V285H380V285.5H382.5V286H385V286.5H387.5V287H390V287.5H392.5V287.75H395V288H397.5V288.25H400V288.5H402.5V288.75H405V289H407.5V289.25H410V289.5H412.5V289.67H415V289.83H417.5V290H420V290.17H422.5V290.33H425V290.5H427.5V290.73H430V290.97H432.5V291.2H435V291.43H437.5V291.67H440V291.9H463.5V294.4H475V298.1H517.9V320.3" fill="none" stroke="#c3173b" stroke-width="1.6" stroke-linejoin="miter"/>
<path d="M309.5 245.2H310.9V245.42H312.3V245.64H313.7V245.86H315.1V246.08H316.5V246.3H318.12V246.78H319.74V247.26H321.36V247.74H322.98V248.22H324.6V248.7H326.05V249.27H327.5V249.85H328.95V250.43H330.4V251H331.85V251.57H333.3V252.15H334.75V252.73H336.2V253.3H337.58V253.76H338.96V254.22H340.34V254.68H341.72V255.14H343.1V255.6H344.72V256.06H346.34V256.52H347.96V256.98H349.58V257.44H351.2V257.9H352.62V258.32H354.05V258.75H355.47V259.18H356.9V259.6H358.52V259.94H360.14V260.28H361.76V260.62H363.38V260.96H365V261.3H366.5V261.55H368V261.79H369.5V262.04H371V262.28H372.5V262.52H374V262.77H375.5V263.01H377V263.26H378.5V263.5H380V263.75H381.54V263.88H383.08V264.02H384.62V264.15H386.15V264.29H387.69V264.42H389.23V264.56H390.77V264.69H392.31V264.83H393.85V264.96H395.38V265.1H396.92V265.23H398.46V265.37H400V265.5H401.54V265.62H403.08V265.73H404.62V265.85H406.15V265.96H407.69V266.08H409.23V266.19H410.77V266.31H412.31V266.42H413.85V266.54H415.38V266.65H416.92V266.77H418.46V266.88H420V267H421.54V267.08H423.08V267.15H424.62V267.23H426.15V267.31H427.69V267.38H429.23V267.46H430.77V267.54H432.31V267.62H433.85V267.69H435.38V267.77H436.92V267.85H438.46V267.92H440V268H441.47V268.07H442.93V268.13H444.4V268.2H445.87V268.27H447.33V268.33H448.8V268.4H450.27V268.47H451.73V268.53H453.2V268.6H454.67V268.67H456.13V268.73H457.6V268.8H459.07V268.87H460.53V268.93H462V269H463.47V269.07H464.93V269.13H466.4V269.2H467.84V269.36H469.27V269.53H470.71V269.69H472.15V269.85H473.58V270.02H475.02V270.18H476.45V270.35H477.89V270.51H479.33V270.67H480.76V270.84H482.2V271H483.76V271.22H485.31V271.44H486.87V271.67H488.42V271.89H489.98V272.11H491.53V272.33H493.09V272.56H494.64V272.78H496.2V273H496.85V274.65H497.5V276.3H518.2" fill="none" stroke="#1f4d7e" stroke-width="1.6" stroke-linejoin="miter"/>
<path d="M309.5 245.2H310.9V245.32H312.3V245.44H313.7V245.56H315.1V245.68H316.5V245.8H317.95V246.05H319.4V246.3H320.85V246.55H322.3V246.8H323.75V247.05H325.2V247.3H326.65V247.55H328.1V247.8H329.63V248.13H331.17V248.47H332.7V248.8H334.23V249.13H335.77V249.47H337.3V249.8H338.92V250.26H340.54V250.72H342.16V251.18H343.78V251.64H345.4V252.1H346.85V252.68H348.3V253.25H349.75V253.82H351.2V254.4H352.62V254.7H354.05V255H355.47V255.3H356.9V255.6H358.52V255.74H360.14V255.88H361.76V256.02H363.38V256.16H365V256.3H366.5V256.47H368V256.64H369.5V256.81H371V256.98H372.5V257.15H374V257.32H375.5V257.49H377V257.66H378.5V257.83H380V258H381.54V258.1H383.08V258.19H384.62V258.29H386.15V258.38H387.69V258.48H389.23V258.58H390.77V258.67H392.31V258.77H393.85V258.87H395.38V258.96H396.92V259.06H398.46V259.15H400V259.25H401.54V259.31H403.08V259.37H404.62V259.42H406.15V259.48H407.69V259.54H409.23V259.6H410.77V259.65H412.31V259.71H413.85V259.77H415.38V259.83H416.92V259.88H418.46V259.94H420V260H421.54V260.1H423.08V260.19H424.62V260.29H426.15V260.38H427.69V260.48H429.23V260.58H430.77V260.67H432.31V260.77H433.85V260.87H435.38V260.96H436.92V261.06H438.46V261.15H440V261.25H441.4V261.48H442.8V261.71H444.2V261.94H445.6V262.17H447V262.4H448.44V262.44H449.89V262.49H451.33V262.53H452.78V262.58H454.22V262.62H455.67V262.67H457.11V262.71H458.56V262.76H460V262.8H461.5V262.97H463V263.14H464.5V263.31H466V263.48H467.5V263.64H469V263.81H470.5V263.98H472V264.15H473.5V264.32H475V264.49H476.5V264.66H478V264.82H479.5V264.99H481V265.16H482.5V265.33H484V265.5H485.56V265.69H487.11V265.88H488.67V266.07H490.22V266.26H491.78V266.44H493.33V266.63H494.89V266.82H496.44V267.01H498V267.2H518.2" fill="none" stroke="#3f9f3f" stroke-width="1.6" stroke-linejoin="miter"/>
<path d="M420 258.7V261.3M425 259.01V261.61M430 259.32V261.93M435 259.64V262.24M440 259.95V262.55M445 260.77V263.37M450 261.19V263.79M455 261.35V263.95M460 261.5V264.1M465 262.06V264.66M470 262.62V265.23M475 263.19V265.79M480 263.75V266.35M485 264.32V266.92M490 264.93V267.53M495 265.54V268.14M500 265.9V268.5M505 265.9V268.5M510 265.9V268.5M515 265.9V268.5" stroke="#3f9f3f" stroke-width="0.7" fill="none"/>
<path d="M420 265.7V268.3M425 265.95V268.55M430 266.2V268.8M435 266.45V269.05M440 266.7V269.3M445 266.93V269.53M450 267.15V269.75M455 267.38V269.98M460 267.61V270.21M465 267.84V270.44M470 268.31V270.91M475 268.88V271.48M480 269.45V272.05M485 270.1V272.7M490 270.81V273.41M495 271.53V274.13M500 275V277.6M505 275V277.6M510 275V277.6M515 275V277.6" stroke="#1f4d7e" stroke-width="0.7" fill="none"/>
<path d="M400 287.2V289.8M420 288.87V291.47M445 290.6V293.2M455 290.6V293.2M470 293.1V295.7M480 296.8V299.4M486 296.8V299.4M492 296.8V299.4M498 296.8V299.4M504 296.8V299.4M510 296.8V299.4" stroke="#c3173b" stroke-width="0.7" fill="none"/>
<path d="M297.5 239.6V372H517" fill="none" stroke="#262626" stroke-width="1.2"/>
<text x="291.6" y="369.15" font-size="8" text-anchor="end" fill="#2b2b2b">0.0</text>
<text x="291.6" y="345.1" font-size="8" text-anchor="end" fill="#2b2b2b">0.2</text>
<text x="291.6" y="321.05" font-size="8" text-anchor="end" fill="#2b2b2b">0.4</text>
<text x="291.6" y="297" font-size="8" text-anchor="end" fill="#2b2b2b">0.6</text>
<text x="291.6" y="272.95" font-size="8" text-anchor="end" fill="#2b2b2b">0.8</text>
<text x="291.6" y="248.9" font-size="8" text-anchor="end" fill="#2b2b2b">1.0</text>
<text x="307.5" y="384.5" font-size="8.4" text-anchor="middle" textLength="4.58" lengthAdjust="spacingAndGlyphs" fill="#2b2b2b">0</text>
<text x="340" y="384.5" font-size="8.4" text-anchor="middle" textLength="9.16" lengthAdjust="spacingAndGlyphs" fill="#2b2b2b">12</text>
<text x="372.5" y="384.5" font-size="8.4" text-anchor="middle" textLength="9.16" lengthAdjust="spacingAndGlyphs" fill="#2b2b2b">24</text>
<text x="405" y="384.5" font-size="8.4" text-anchor="middle" textLength="9.16" lengthAdjust="spacingAndGlyphs" fill="#2b2b2b">36</text>
<text x="437.5" y="384.5" font-size="8.4" text-anchor="middle" textLength="9.16" lengthAdjust="spacingAndGlyphs" fill="#2b2b2b">48</text>
<text x="470" y="384.5" font-size="8.4" text-anchor="middle" textLength="9.16" lengthAdjust="spacingAndGlyphs" fill="#2b2b2b">60</text>
<text x="502.5" y="384.5" font-size="8.4" text-anchor="middle" textLength="9.16" lengthAdjust="spacingAndGlyphs" fill="#2b2b2b">72</text>
<path d="M294.3 365.75H297.5M294.3 341.7H297.5M294.3 317.65H297.5M294.3 293.6H297.5M294.3 269.55H297.5M294.3 245.5H297.5M307.5 372V375.4M340 372V375.4M372.5 372V375.4M405 372V375.4M437.5 372V375.4M470 372V375.4M502.5 372V375.4" stroke="#262626" stroke-width="1"/>
<text x="293.5" y="395.8" font-size="8" text-anchor="end" fill="#2b2b2b">2</text>
<text x="307.5" y="395.8" font-size="8" text-anchor="middle" textLength="13.21" lengthAdjust="spacingAndGlyphs" fill="#2b2b2b">704</text>
<text x="340" y="395.8" font-size="8" text-anchor="middle" textLength="13.21" lengthAdjust="spacingAndGlyphs" fill="#2b2b2b">619</text>
<text x="372.5" y="395.8" font-size="8" text-anchor="middle" textLength="13.21" lengthAdjust="spacingAndGlyphs" fill="#2b2b2b">565</text>
<text x="405" y="395.8" font-size="8" text-anchor="middle" textLength="13.21" lengthAdjust="spacingAndGlyphs" fill="#2b2b2b">528</text>
<text x="437.5" y="395.8" font-size="8" text-anchor="middle" textLength="13.21" lengthAdjust="spacingAndGlyphs" fill="#2b2b2b">370</text>
<text x="470" y="395.8" font-size="8" text-anchor="middle" textLength="13.21" lengthAdjust="spacingAndGlyphs" fill="#2b2b2b">147</text>
<text x="502.5" y="395.8" font-size="8" text-anchor="middle" textLength="8.81" lengthAdjust="spacingAndGlyphs" fill="#2b2b2b">23</text>
<text x="293.5" y="404.2" font-size="8" text-anchor="end" fill="#2b2b2b">3</text>
<text x="307.5" y="404.2" font-size="8" text-anchor="middle" textLength="13.21" lengthAdjust="spacingAndGlyphs" fill="#2b2b2b">130</text>
<text x="340" y="404.2" font-size="8" text-anchor="middle" textLength="8.81" lengthAdjust="spacingAndGlyphs" fill="#2b2b2b">90</text>
<text x="372.5" y="404.2" font-size="8" text-anchor="middle" textLength="8.81" lengthAdjust="spacingAndGlyphs" fill="#2b2b2b">77</text>
<text x="405" y="404.2" font-size="8" text-anchor="middle" textLength="8.81" lengthAdjust="spacingAndGlyphs" fill="#2b2b2b">70</text>
<text x="437.5" y="404.2" font-size="8" text-anchor="middle" textLength="8.81" lengthAdjust="spacingAndGlyphs" fill="#2b2b2b">46</text>
<text x="470" y="404.2" font-size="8" text-anchor="middle" textLength="8.81" lengthAdjust="spacingAndGlyphs" fill="#2b2b2b">21</text>
<text x="502.5" y="404.2" font-size="8" text-anchor="middle" textLength="4.4" lengthAdjust="spacingAndGlyphs" fill="#2b2b2b">4</text>
<text x="299.2" y="222.7" font-size="8.6" textLength="92.23" lengthAdjust="spacingAndGlyphs" fill="#2b2b2b">OS according to ECOG</text>
<text x="393.9" y="222.7" font-size="8.6" textLength="100.8" lengthAdjust="spacingAndGlyphs" fill="#2b2b2b">PS-TMTV - GOYA trial (All)</text>
<text x="293.25" y="232.6" font-size="7.5" textLength="207.5" lengthAdjust="spacingAndGlyphs" fill="#2b2b2b" style="stroke-width:0.08">With Number of Subjects at Risk and 95% Confidence Interval</text>
<text x="379.2" y="415.8" font-size="9.6" textLength="50.8" lengthAdjust="spacingAndGlyphs" fill="#2b2b2b" style="stroke-width:0.42">OS time (month)</text>
<text style="stroke-width:0.42" transform="translate(275.3 334.1) rotate(-90)" font-size="8.7" fill="#2b2b2b" textLength="58.3" lengthAdjust="spacingAndGlyphs">Survival probability</text>
<path d="M45.8 452.7L50 456L55 460L60 466L65 472L70 478L80 484L100 490L130 495L170 500L210 505L245 508L245 542L210 540L170 538L140 533L120 532.5L90 525L70 515L63 508.5L60 497L55 485L50 470L46 455Z" fill="#f1a9a4" fill-opacity="0.22" stroke="none"/>
<path d="M45.8 452.7L55 456L60 459L70 466L80 473L100 480L130 486L170 491L210 494.5L245 497L245 518L210 513.5L170 509L130 505L100 500L80 492L70 482L60 468L55 463L45.8 454Z" fill="#a9bfe6" fill-opacity="0.22" stroke="none"/>
<path d="M45.6 451.59L50.1 451.7L53.5 453.13L58.2 455.94L65.1 458.7L68.5 462.73L74.3 463.11L81.2 467.58L88.2 468.04L96.2 469.68L98.5 471.33L107.3 472.55L116.9 473.36L126.5 473.67L140 474.3L180 474.3L205 475.8L230 477.8L237.5 480.9L245 480.75L245 493.25L237.5 493.06L230 489.62L205 486.5L180 483.88L140 482.07L126.5 480.84L116.9 480.1L107.3 478.86L98.5 477.24L96.2 475.48L88.2 473.48L81.2 472.7L74.3 467.93L68.5 467.29L65.1 463.1L58.2 460.03L53.5 457.01L50.1 455.43L45.6 455.12Z" fill="#9fd89a" fill-opacity="0.25" stroke="none"/>
<path d="M45.6 452.6H46.6V454.9H47V456.43H47.4V457.97H47.8V459.5H48.9V461.8H51.2V463H51.8V464.75H52.4V466.5H52.77V468.03H53.13V469.57H53.5V471.1H53.8V472.8H54.1V474.5H57V475.7H59.3V477.4H61.6V479.2H63.3V480.9H63.45V482.47H63.6V484.05H63.75V485.62H63.9V487.2H64.12V488.76H64.34V490.32H64.56V491.88H64.78V493.44H65V495H65.95V496.9H66.9V498.8H70.3V499.8H73.7V500.8H78.5V502.7H80.1V504.3H81.7V505.9H83.3V507.5H84.87V509.1H86.43V510.7H88V512.3H91.87V512.93H95.73V513.57H99.6V514.2H104.07V514.87H108.53V515.53H113V516.2H116.87V516.83H120.73V517.47H124.6V518.1H125.55V519.55H126.5V521H161.25V521.25H163.75V523.12H166.25V525H168.12V526.25H170V527.5H217.5V530H242.5V533.75H245" fill="none" stroke="#c3173b" stroke-width="1.35" stroke-linejoin="miter"/>
<path d="M45.6 452.6H48.9V453.8H52.4V454.9H52.77V456.27H53.13V457.63H53.5V459H55.85V459.55H58.2V460.1H61.6V461.8H62.75V463.25H63.9V464.7H65.65V466.45H67.4V468.2H68.53V469.73H69.67V471.27H70.8V472.8H71.6V474.33H72.4V475.87H73.2V477.4H76.6V478.6H78.9V480.05H81.2V481.5H84.7V483.8H87.6V484.05H90.5V484.3H92.8V486.7H95.47V487.57H98.15V488.45H100.83V489.32H103.5V490.2H106.67V490.83H109.83V491.47H113V492.1H115.9V492.93H118.8V493.75H121.7V494.57H124.6V495.4H128.5V496.5H131.44V496.56H134.39V496.61H137.33V496.67H140.28V496.72H143.22V496.78H146.17V496.83H149.11V496.89H152.06V496.94H155V497H157.5V498.5H160V500H163V500.5H166V501H169V501.5H172V502H175V502.5H177.92V502.83H180.83V503.17H183.75V503.5H186.67V503.83H189.58V504.17H192.5V504.5H193.75V506H195V507.5H235H237.5V509.5H245" fill="none" stroke="#1f4d7e" stroke-width="1.35" stroke-linejoin="miter"/>
<path d="M45.6 452.6H50.1V452.8H53.5V454.3H55.85V455.75H58.2V457.2H60.5V458.17H62.8V459.13H65.1V460.1H66.23V461.47H67.37V462.83H68.5V464.2H71.4V464.45H74.3V464.7H76.6V466.23H78.9V467.77H81.2V469.3H83.53V469.5H85.87V469.7H88.2V469.9H90.87V470.5H93.53V471.1H96.2V471.7H98.5V473.4H100.7V473.75H102.9V474.1H105.1V474.45H107.3V474.8H109.7V475.05H112.1V475.3H114.5V475.55H116.9V475.8H119.3V475.93H121.7V476.05H124.1V476.18H126.5V476.3H129.2V476.48H131.9V476.66H134.6V476.84H137.3V477.02H140V477.2H142.5V477.25H145V477.3H147.5V477.35H150V477.4H152.5V477.45H155V477.5H157.5V477.55H160V477.6H162.5V477.65H165V477.7H167.5V477.75H170V477.8H172.5V477.85H175V477.9H177.5V477.95H180V478H182.5V478.2H185V478.4H187.5V478.6H190V478.8H192.5V479H195V479.2H197.5V479.4H200V479.6H202.5V479.8H205V480H207.5V480.25H210V480.5H212.5V480.75H215V481H217.5V481.25H220V481.5H222.5V481.75H225V482H227.5V482.25H230V482.5H232.5V483.58H235V484.67H237.5V485.75H245" fill="none" stroke="#3f9f3f" stroke-width="1.35" stroke-linejoin="miter"/>
<path d="M95 469.83V473.03M110 473.48V476.68M125 474.62V477.82M140 475.6V478.8M150 475.8V479M160 476V479.2M170 476.2V479.4M180 476.4V479.6M190 477.2V480.4M200 478V481.2M210 478.9V482.1M220 479.9V483.1M230 480.9V484.1M240 484.15V487.35" stroke="#3f9f3f" stroke-width="0.8" fill="none"/>
<path d="M140 495.12V498.32M150 495.31V498.51M165 499.23V502.43M180 501.47V504.67M190 502.61V505.81M200 505.9V509.1M210 505.9V509.1M218 505.9V509.1M225 505.9V509.1M232 505.9V509.1M240 507.9V511.1" stroke="#1f4d7e" stroke-width="0.8" fill="none"/>
<path d="M150 519.57V522.77M190 525.9V529.1M200 525.9V529.1M225 528.4V531.6M235 528.4V531.6" stroke="#c3173b" stroke-width="0.8" fill="none"/>
<path d="M33.9 450.5V599.1H250.5" fill="none" stroke="#262626" stroke-width="1.2"/>
<text x="27.8" y="571.5" font-size="8.3" text-anchor="end" fill="#2b2b2b">0.0</text>
<text x="27.8" y="548.2" font-size="8.3" text-anchor="end" fill="#2b2b2b">0.2</text>
<text x="27.8" y="524.9" font-size="8.3" text-anchor="end" fill="#2b2b2b">0.4</text>
<text x="27.8" y="501.6" font-size="8.3" text-anchor="end" fill="#2b2b2b">0.6</text>
<text x="27.8" y="478.3" font-size="8.3" text-anchor="end" fill="#2b2b2b">0.8</text>
<text x="27.8" y="455" font-size="8.3" text-anchor="end" fill="#2b2b2b">1.0</text>
<text x="45" y="611.2" font-size="8.4" text-anchor="middle" textLength="4.58" lengthAdjust="spacingAndGlyphs" fill="#2b2b2b">0</text>
<text x="78.25" y="611.2" font-size="8.4" text-anchor="middle" textLength="9.16" lengthAdjust="spacingAndGlyphs" fill="#2b2b2b">12</text>
<text x="111.5" y="611.2" font-size="8.4" text-anchor="middle" textLength="9.16" lengthAdjust="spacingAndGlyphs" fill="#2b2b2b">24</text>
<text x="144.75" y="611.2" font-size="8.4" text-anchor="middle" textLength="9.16" lengthAdjust="spacingAndGlyphs" fill="#2b2b2b">36</text>
<text x="178" y="611.2" font-size="8.4" text-anchor="middle" textLength="9.16" lengthAdjust="spacingAndGlyphs" fill="#2b2b2b">48</text>
<text x="211.25" y="611.2" font-size="8.4" text-anchor="middle" textLength="9.16" lengthAdjust="spacingAndGlyphs" fill="#2b2b2b">60</text>
<text x="244.5" y="611.2" font-size="8.4" text-anchor="middle" textLength="9.16" lengthAdjust="spacingAndGlyphs" fill="#2b2b2b">72</text>
<path d="M30.7 569.3H33.9M30.7 546H33.9M30.7 522.7H33.9M30.7 499.4H33.9M30.7 476.1H33.9M30.7 452.8H33.9M45 599.1V602.5M78.25 599.1V602.5M111.5 599.1V602.5M144.75 599.1V602.5M178 599.1V602.5M211.25 599.1V602.5M244.5 599.1V602.5" stroke="#262626" stroke-width="1"/>
<text x="29.8" y="581.3" font-size="8" text-anchor="end" fill="#2b2b2b">1</text>
<text x="45" y="581.3" font-size="8" text-anchor="middle" textLength="13.21" lengthAdjust="spacingAndGlyphs" fill="#2b2b2b">164</text>
<text x="78.25" y="581.3" font-size="8" text-anchor="middle" textLength="13.21" lengthAdjust="spacingAndGlyphs" fill="#2b2b2b">142</text>
<text x="111.5" y="581.3" font-size="8" text-anchor="middle" textLength="13.21" lengthAdjust="spacingAndGlyphs" fill="#2b2b2b">129</text>
<text x="144.75" y="581.3" font-size="8" text-anchor="middle" textLength="12.62" lengthAdjust="spacingAndGlyphs" fill="#2b2b2b">119</text>
<text x="178" y="581.3" font-size="8" text-anchor="middle" textLength="13.21" lengthAdjust="spacingAndGlyphs" fill="#2b2b2b">106</text>
<text x="211.25" y="581.3" font-size="8" text-anchor="middle" textLength="8.81" lengthAdjust="spacingAndGlyphs" fill="#2b2b2b">82</text>
<text x="244.5" y="581.3" font-size="8" text-anchor="middle" textLength="8.81" lengthAdjust="spacingAndGlyphs" fill="#2b2b2b">65</text>
<text x="29.8" y="588.8" font-size="8" text-anchor="end" fill="#2b2b2b">2</text>
<text x="45" y="588.8" font-size="8" text-anchor="middle" textLength="13.21" lengthAdjust="spacingAndGlyphs" fill="#2b2b2b">123</text>
<text x="78.25" y="588.8" font-size="8" text-anchor="middle" textLength="8.81" lengthAdjust="spacingAndGlyphs" fill="#2b2b2b">93</text>
<text x="111.5" y="588.8" font-size="8" text-anchor="middle" textLength="8.81" lengthAdjust="spacingAndGlyphs" fill="#2b2b2b">78</text>
<text x="144.75" y="588.8" font-size="8" text-anchor="middle" textLength="8.81" lengthAdjust="spacingAndGlyphs" fill="#2b2b2b">66</text>
<text x="178" y="588.8" font-size="8" text-anchor="middle" textLength="8.81" lengthAdjust="spacingAndGlyphs" fill="#2b2b2b">50</text>
<text x="211.25" y="588.8" font-size="8" text-anchor="middle" textLength="8.81" lengthAdjust="spacingAndGlyphs" fill="#2b2b2b">35</text>
<text x="244.5" y="588.8" font-size="8" text-anchor="middle" textLength="8.81" lengthAdjust="spacingAndGlyphs" fill="#2b2b2b">28</text>
<text x="29.8" y="596.3" font-size="8" text-anchor="end" fill="#2b2b2b">3</text>
<text x="45" y="596.3" font-size="8" text-anchor="middle" textLength="8.81" lengthAdjust="spacingAndGlyphs" fill="#2b2b2b">62</text>
<text x="78.25" y="596.3" font-size="8" text-anchor="middle" textLength="8.81" lengthAdjust="spacingAndGlyphs" fill="#2b2b2b">35</text>
<text x="111.5" y="596.3" font-size="8" text-anchor="middle" textLength="8.81" lengthAdjust="spacingAndGlyphs" fill="#2b2b2b">28</text>
<text x="144.75" y="596.3" font-size="8" text-anchor="middle" textLength="8.81" lengthAdjust="spacingAndGlyphs" fill="#2b2b2b">25</text>
<text x="178" y="596.3" font-size="8" text-anchor="middle" textLength="8.81" lengthAdjust="spacingAndGlyphs" fill="#2b2b2b">17</text>
<text x="211.25" y="596.3" font-size="8" text-anchor="middle" textLength="8.81" lengthAdjust="spacingAndGlyphs" fill="#2b2b2b">15</text>
<text x="244.5" y="596.3" font-size="8" text-anchor="middle" textLength="8.22" lengthAdjust="spacingAndGlyphs" fill="#2b2b2b">11</text>
<text x="29.8" y="435.6" font-size="8.6" textLength="95.95" lengthAdjust="spacingAndGlyphs" fill="#2b2b2b">PFS according to ECOG</text>
<text x="128.2" y="435.6" font-size="8.6" textLength="100.2" lengthAdjust="spacingAndGlyphs" fill="#2b2b2b">PS-TMTV - RW series (All)</text>
<text x="25.8" y="444.8" font-size="7.5" textLength="207.7" lengthAdjust="spacingAndGlyphs" fill="#2b2b2b" style="stroke-width:0.08">With Number of Subjects at Risk and 95% Confidence Interval</text>
<text x="117.4" y="621.9" font-size="9.6" textLength="54.9" lengthAdjust="spacingAndGlyphs" fill="#2b2b2b" style="stroke-width:0.42">PFS time (month)</text>
<text style="stroke-width:0.42" transform="translate(11.5 553.5) rotate(-90)" font-size="8.7" fill="#2b2b2b" textLength="57.6" lengthAdjust="spacingAndGlyphs">Survival probability</text>
<path d="M40.3 546.3H59.3" stroke="#3f9f3f" stroke-width="1.1" stroke-opacity="0.95"/>
<text x="63.4" y="549" font-size="7.9" textLength="52.5" lengthAdjust="spacingAndGlyphs" fill="#2b2b2b">1: No risk factor</text>
<path d="M40.3 554.3H59.3" stroke="#1f4d7e" stroke-width="1.1" stroke-opacity="0.95"/>
<text x="63.4" y="557" font-size="7.9" textLength="57" lengthAdjust="spacingAndGlyphs" fill="#2b2b2b">2: One risk factor</text>
<path d="M40.3 562.3H59.3" stroke="#c3173b" stroke-width="1.1" stroke-opacity="0.95"/>
<text x="63.4" y="565" font-size="7.9" textLength="60" lengthAdjust="spacingAndGlyphs" fill="#2b2b2b">3: Two risk factors</text>
<text x="204.5" y="461.5" font-size="8.4" textLength="39.5" lengthAdjust="spacingAndGlyphs" fill="#2b2b2b">+ Censored</text>
<path d="M313.7 452.7L320 458L330 466L345 476L360 483L388.8 493.5L429.2 501.5L469.6 505.6L513.75 509.6L513.75 539.9L469.6 537.9L429.2 535.9L388.8 531.8L368.6 527.8L348.4 517.7L336.3 505.6L328.2 489.4L320.1 469.2L313.9 454Z" fill="#f1a9a4" fill-opacity="0.22" stroke="none"/>
<path d="M313.7 452.7L334 453.5L348.4 461.2L388.8 473.5L429.2 481L469.6 486L513.75 490L513.75 508L469.6 505L429.2 501.5L388.8 491.4L368.6 483.4L348.4 469.2L332.2 456L313.7 455Z" fill="#a9bfe6" fill-opacity="0.22" stroke="none"/>
<path d="M314 450.6L334.2 450.6L338.8 452.3L343.5 454.7L348.1 456.4L353.8 458.1L358.5 458.7L365.4 459.3L368.8 461.6L372.6 463.2L380.7 465.2L388.8 467.2L400.9 468.4L425.1 469.3L469.6 470.1L481.7 472.1L497.8 473.3L510 477.3L513.75 478L513.75 488.02L510 487.21L497.8 482.84L481.7 481.16L469.6 478.8L425.1 476.66L400.9 475.04L388.8 473.47L380.7 471.23L372.6 468.99L368.8 467.27L365.4 464.87L358.5 464.06L353.8 463.32L348.1 461.45L343.5 459.62L338.8 457.07L334.2 455.24L314 454.63Z" fill="#9fd89a" fill-opacity="0.3" stroke="none"/>
<path d="M314 452.6H315.8V454.9H316.9V457.2H317.3V458.57H317.7V459.93H318.1V461.3H321.5V462.4H322.1V463.85H322.7V465.3H323.25V467.3H323.8V469.3H326.2V471.1H327.35V472.8H328.5V474.5H329.27V475.87H330.03V477.23H330.8V478.6H334.2V479.2H336.5V481.5H337.27V483.03H338.03V484.57H338.8V486.1H340.3V487.4H344.3V489.4H346.32V490.92H348.35V492.45H350.38V493.98H352.4V495.5H355.45V496.5H358.5V497.5H361.5V498.5H364.5V499.5H368.55V500.5H372.6V501.5H376.65V502.32H380.7V503.15H384.75V503.98H388.8V504.8H392.82V505.5H396.85V506.2H400.88V506.9H404.9V507.6H408.95V508.27H413V508.93H417.05V509.6H421.1V510.27H425.15V510.93H429.2V511.6H431.2V513.33H433.2V515.05H435.2V516.77H437.2V518.5H439.25V520H441.3V521.5H445.34V521.55H449.38V521.6H453.41V521.65H457.45V521.7H461.49V521.75H465.52V521.8H469.56V521.85H473.6V521.9H477.64V521.95H481.68V522H485.71V522.05H489.75V522.1H493.79V522.15H497.82V522.2H501.86V522.25H505.9V522.3H507.9V524.15H509.9V526H513.75V527.8" fill="none" stroke="#c3173b" stroke-width="1.35" stroke-linejoin="miter"/>
<path d="M314 452.6H316.9V454.9H334.2H336.5V457.2H340V459.5H341.15V460.95H342.3V462.4H345.8V464.2H347.5V465.6H349.2V467H351.5V468.15H353.8V469.3H356.15V470.5H358.5V471.7H360.8V472.85H363.1V474H365.4V475.7H367.7V476H370V476.3H372.68V477.05H375.35V477.8H378.02V478.55H380.7V479.3H383.73V480.32H386.75V481.35H389.77V482.38H392.8V483.4H395.82V483.9H398.85V484.4H401.88V484.9H404.9V485.4H407.92V486.4H410.95V487.4H413.98V488.4H417V489.4H419.7V490.77H422.4V492.13H425.1V493.5H428.34V493.9H431.58V494.3H434.82V494.7H438.06V495.1H441.3V495.5H444.44V495.63H447.59V495.77H450.73V495.9H453.88V496.03H457.02V496.17H460.17V496.3H463.31V496.43H466.46V496.57H469.6V496.7H472.54V496.8H475.47V496.9H478.41V497H481.35V497.1H484.28V497.2H487.22V497.3H490.15V497.4H493.09V497.5H496.03V497.6H498.96V497.7H501.9V497.8H504.6V498.37H507.3V498.93H510V499.5H513.75V500.7" fill="none" stroke="#1f4d7e" stroke-width="1.35" stroke-linejoin="miter"/>
<path d="M314 452.6H334.2H336.5V453.45H338.8V454.3H341.15V455.5H343.5V456.7H345.8V457.55H348.1V458.4H350.95V459.25H353.8V460.1H356.15V460.4H358.5V460.7H360.8V460.9H363.1V461.1H365.4V461.3H368.8V463.6H370.7V464.4H372.6V465.2H375.3V465.87H378V466.53H380.7V467.2H383.4V467.87H386.1V468.53H388.8V469.2H391.22V469.44H393.64V469.68H396.06V469.92H398.48V470.16H400.9V470.4H403.32V470.49H405.74V470.58H408.16V470.67H410.58V470.76H413V470.85H415.42V470.94H417.84V471.03H420.26V471.12H422.68V471.21H425.1V471.3H427.57V471.34H430.04V471.39H432.52V471.43H434.99V471.48H437.46V471.52H439.93V471.57H442.41V471.61H444.88V471.66H447.35V471.7H449.82V471.74H452.29V471.79H454.77V471.83H457.24V471.88H459.71V471.92H462.18V471.97H464.66V472.01H467.13V472.06H469.6V472.1H472.02V472.5H474.44V472.9H476.86V473.3H479.28V473.7H481.7V474.1H484.38V474.3H487.07V474.5H489.75V474.7H492.43V474.9H495.12V475.1H497.8V475.3H500.24V476.1H502.68V476.9H505.12V477.7H507.56V478.5H510V479.3H511.88V479.65H513.75V480" fill="none" stroke="#3f9f3f" stroke-width="1.35" stroke-linejoin="miter"/>
<path d="M400 468.71V471.91M415 469.32V472.52M425 469.7V472.9M435 469.88V473.08M445 470.06V473.26M455 470.24V473.44M465 470.42V473.62M475 471.39V474.59M490 473.12V476.32M500 474.42V477.62M508 477.04V480.24" stroke="#3f9f3f" stroke-width="0.8" fill="none"/>
<path d="M415 487.14V490.34M430 492.5V495.7M440 493.74V496.94M450 494.27V497.47M460 494.69V497.89M470 495.11V498.31M480 495.45V498.65M490 495.79V498.99M500 496.14V499.34M508 497.48V500.68" stroke="#1f4d7e" stroke-width="0.8" fill="none"/>
<path d="M450 520.01V523.21M470 520.26V523.46M480 520.38V523.58M500 520.63V523.83M505 520.69V523.89M510 524.45V527.65" stroke="#c3173b" stroke-width="0.8" fill="none"/>
<path d="M302.2 450.5V599.1H519" fill="none" stroke="#262626" stroke-width="1.2"/>
<text x="295.7" y="571.5" font-size="8.3" text-anchor="end" fill="#2b2b2b">0.0</text>
<text x="295.7" y="548.2" font-size="8.3" text-anchor="end" fill="#2b2b2b">0.2</text>
<text x="295.7" y="524.9" font-size="8.3" text-anchor="end" fill="#2b2b2b">0.4</text>
<text x="295.7" y="501.6" font-size="8.3" text-anchor="end" fill="#2b2b2b">0.6</text>
<text x="295.7" y="478.3" font-size="8.3" text-anchor="end" fill="#2b2b2b">0.8</text>
<text x="295.7" y="455" font-size="8.3" text-anchor="end" fill="#2b2b2b">1.0</text>
<text x="313" y="611.2" font-size="8.4" text-anchor="middle" textLength="4.58" lengthAdjust="spacingAndGlyphs" fill="#2b2b2b">0</text>
<text x="346.25" y="611.2" font-size="8.4" text-anchor="middle" textLength="9.16" lengthAdjust="spacingAndGlyphs" fill="#2b2b2b">12</text>
<text x="379.5" y="611.2" font-size="8.4" text-anchor="middle" textLength="9.16" lengthAdjust="spacingAndGlyphs" fill="#2b2b2b">24</text>
<text x="412.75" y="611.2" font-size="8.4" text-anchor="middle" textLength="9.16" lengthAdjust="spacingAndGlyphs" fill="#2b2b2b">36</text>
<text x="446" y="611.2" font-size="8.4" text-anchor="middle" textLength="9.16" lengthAdjust="spacingAndGlyphs" fill="#2b2b2b">48</text>
<text x="479.25" y="611.2" font-size="8.4" text-anchor="middle" textLength="9.16" lengthAdjust="spacingAndGlyphs" fill="#2b2b2b">60</text>
<text x="512.5" y="611.2" font-size="8.4" text-anchor="middle" textLength="9.16" lengthAdjust="spacingAndGlyphs" fill="#2b2b2b">72</text>
<path d="M299 569.3H302.2M299 546H302.2M299 522.7H302.2M299 499.4H302.2M299 476.1H302.2M299 452.8H302.2M313 599.1V602.5M346.25 599.1V602.5M379.5 599.1V602.5M412.75 599.1V602.5M446 599.1V602.5M479.25 599.1V602.5M512.5 599.1V602.5" stroke="#262626" stroke-width="1"/>
<text x="297.8" y="581.3" font-size="8" text-anchor="end" fill="#2b2b2b">1</text>
<text x="313" y="581.3" font-size="8" text-anchor="middle" textLength="13.21" lengthAdjust="spacingAndGlyphs" fill="#2b2b2b">164</text>
<text x="346.25" y="581.3" font-size="8" text-anchor="middle" textLength="13.21" lengthAdjust="spacingAndGlyphs" fill="#2b2b2b">155</text>
<text x="379.5" y="581.3" font-size="8" text-anchor="middle" textLength="13.21" lengthAdjust="spacingAndGlyphs" fill="#2b2b2b">141</text>
<text x="412.75" y="581.3" font-size="8" text-anchor="middle" textLength="13.21" lengthAdjust="spacingAndGlyphs" fill="#2b2b2b">132</text>
<text x="446" y="581.3" font-size="8" text-anchor="middle" textLength="12.62" lengthAdjust="spacingAndGlyphs" fill="#2b2b2b">115</text>
<text x="479.25" y="581.3" font-size="8" text-anchor="middle" textLength="8.81" lengthAdjust="spacingAndGlyphs" fill="#2b2b2b">90</text>
<text x="512.5" y="581.3" font-size="8" text-anchor="middle" textLength="8.81" lengthAdjust="spacingAndGlyphs" fill="#2b2b2b">72</text>
<text x="297.8" y="588.8" font-size="8" text-anchor="end" fill="#2b2b2b">2</text>
<text x="313" y="588.8" font-size="8" text-anchor="middle" textLength="13.21" lengthAdjust="spacingAndGlyphs" fill="#2b2b2b">123</text>
<text x="346.25" y="588.8" font-size="8" text-anchor="middle" textLength="13.21" lengthAdjust="spacingAndGlyphs" fill="#2b2b2b">109</text>
<text x="379.5" y="588.8" font-size="8" text-anchor="middle" textLength="8.81" lengthAdjust="spacingAndGlyphs" fill="#2b2b2b">91</text>
<text x="412.75" y="588.8" font-size="8" text-anchor="middle" textLength="8.81" lengthAdjust="spacingAndGlyphs" fill="#2b2b2b">77</text>
<text x="446" y="588.8" font-size="8" text-anchor="middle" textLength="8.81" lengthAdjust="spacingAndGlyphs" fill="#2b2b2b">59</text>
<text x="479.25" y="588.8" font-size="8" text-anchor="middle" textLength="8.81" lengthAdjust="spacingAndGlyphs" fill="#2b2b2b">43</text>
<text x="512.5" y="588.8" font-size="8" text-anchor="middle" textLength="8.81" lengthAdjust="spacingAndGlyphs" fill="#2b2b2b">35</text>
<text x="297.8" y="596.3" font-size="8" text-anchor="end" fill="#2b2b2b">3</text>
<text x="313" y="596.3" font-size="8" text-anchor="middle" textLength="8.81" lengthAdjust="spacingAndGlyphs" fill="#2b2b2b">62</text>
<text x="346.25" y="596.3" font-size="8" text-anchor="middle" textLength="8.81" lengthAdjust="spacingAndGlyphs" fill="#2b2b2b">39</text>
<text x="379.5" y="596.3" font-size="8" text-anchor="middle" textLength="8.81" lengthAdjust="spacingAndGlyphs" fill="#2b2b2b">33</text>
<text x="412.75" y="596.3" font-size="8" text-anchor="middle" textLength="8.81" lengthAdjust="spacingAndGlyphs" fill="#2b2b2b">29</text>
<text x="446" y="596.3" font-size="8" text-anchor="middle" textLength="8.81" lengthAdjust="spacingAndGlyphs" fill="#2b2b2b">20</text>
<text x="479.25" y="596.3" font-size="8" text-anchor="middle" textLength="8.81" lengthAdjust="spacingAndGlyphs" fill="#2b2b2b">18</text>
<text x="512.5" y="596.3" font-size="8" text-anchor="middle" textLength="8.81" lengthAdjust="spacingAndGlyphs" fill="#2b2b2b">13</text>
<text x="298.4" y="435.6" font-size="8.6" textLength="93.7" lengthAdjust="spacingAndGlyphs" fill="#2b2b2b">OS according to ECOG</text>
<text x="394.6" y="435.6" font-size="8.6" textLength="99.7" lengthAdjust="spacingAndGlyphs" fill="#2b2b2b">PS-TMTV - RW series (All)</text>
<text x="293.25" y="444.8" font-size="7.5" textLength="207.5" lengthAdjust="spacingAndGlyphs" fill="#2b2b2b" style="stroke-width:0.08">With Number of Subjects at Risk and 95% Confidence Interval</text>
<text x="386.9" y="621.9" font-size="9.6" textLength="51.1" lengthAdjust="spacingAndGlyphs" fill="#2b2b2b" style="stroke-width:0.42">OS time (month)</text>
<text style="stroke-width:0.42" transform="translate(279.5 553.5) rotate(-90)" font-size="8.7" fill="#2b2b2b" textLength="57.6" lengthAdjust="spacingAndGlyphs">Survival probability</text>
<path d="M308.75 546.3H327.5" stroke="#3f9f3f" stroke-width="1.1" stroke-opacity="0.95"/>
<text x="331.4" y="549" font-size="7.9" textLength="52.5" lengthAdjust="spacingAndGlyphs" fill="#2b2b2b">1: No risk factor</text>
<path d="M308.75 554.3H327.5" stroke="#1f4d7e" stroke-width="1.1" stroke-opacity="0.95"/>
<text x="331.4" y="557" font-size="7.9" textLength="57" lengthAdjust="spacingAndGlyphs" fill="#2b2b2b">2: One risk factor</text>
<path d="M308.75 562.3H327.5" stroke="#c3173b" stroke-width="1.1" stroke-opacity="0.95"/>
<text x="331.4" y="565" font-size="7.9" textLength="60" lengthAdjust="spacingAndGlyphs" fill="#2b2b2b">3: Two risk factors</text>
<text x="473.25" y="461.5" font-size="8.4" textLength="39.5" lengthAdjust="spacingAndGlyphs" fill="#2b2b2b">+ Censored</text>
<circle cx="264.8" cy="54.7" r="0.7" fill="#8a8a8a"/>
<path d="M518.3 262V286" stroke="#9aa6bc" stroke-width="0.8" stroke-opacity="0.6"/>
</svg></body></html>
